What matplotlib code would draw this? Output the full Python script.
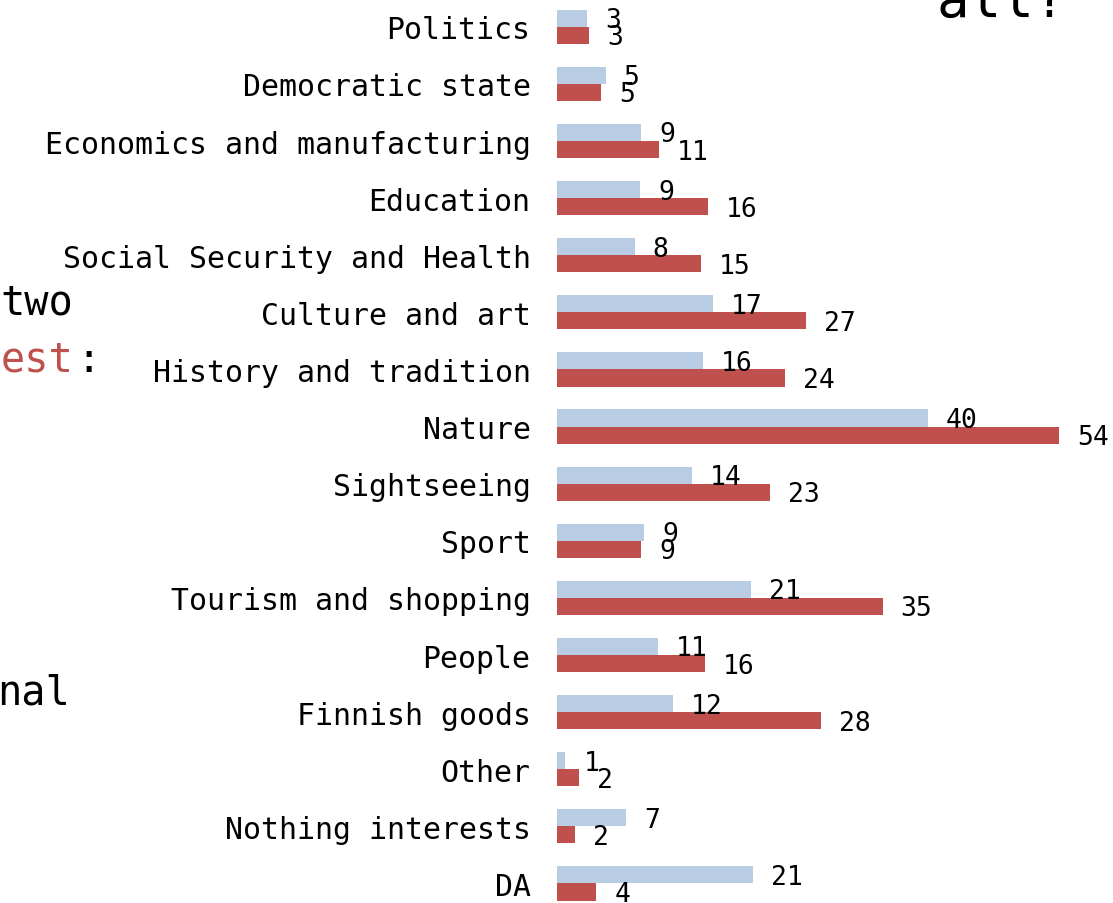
import numpy as np
import matplotlib
matplotlib.use('Agg')
import matplotlib.pyplot as plt

# data (percent of answers, two groups)
categories = ['Politics', 'Democratic state', 'Economics and manufacturing',
              'Education', 'Social Security and Health', 'Culture and art',
              'History and tradition', 'Nature', 'Sightseeing', 'Sport',
              'Tourism and shopping', 'People', 'Finnish goods', 'Other',
              'Nothing interests', 'DA']
blue_vals = [3.2, 5.2, 9.0, 8.9, 8.3, 16.7, 15.6, 39.6, 14.4, 9.3,
             20.7, 10.8, 12.4, 0.9, 7.4, 20.9]
red_vals = [3.4, 4.7, 10.9, 16.1, 15.4, 26.6, 24.4, 53.6, 22.8, 9.0,
            34.8, 15.8, 28.2, 2.4, 1.9, 4.2]

blue_col = '#b8cce4'
red_col = '#c0504d'
mono = 'DejaVu Sans Mono'

W, H = 1113, 904
fig = plt.figure(figsize=(W / 100, H / 100), dpi=100)
ax = fig.add_axes([557 / W, 0, 1 - 557 / W, 1])

y = np.arange(len(categories))
h = 0.3
ax.barh(y - h / 2, blue_vals, height=h, color=blue_col, edgecolor='none')
ax.barh(y + h / 2, red_vals, height=h, color=red_col, edgecolor='none')

for yy, v in zip(y, blue_vals):
    ax.annotate(f'{round(v)}', (v, yy - h / 2), xytext=(18, -2),
                textcoords='offset pixels', ha='left', va='center',
                fontsize=19, family=mono, color='black')
for yy, v in zip(y, red_vals):
    ax.annotate(f'{round(v)}', (v, yy + h / 2), xytext=(18, -2),
                textcoords='offset pixels', ha='left', va='center',
                fontsize=19, family=mono, color='black')

ax.set_xlim(0, 556 / 9.36)
ax.set_ylim(15.342, -0.487)
ax.set_yticks(y)
ax.set_yticklabels(categories, family=mono, fontsize=21.5)
ax.tick_params(axis='y', length=0, pad=19)
ax.set_xticks([])
for s in ax.spines.values():
    s.set_visible(False)

# bits of the surrounding slide text that got cropped
fig.text(73 / W, 1 - 315 / H, 'two', ha='right', va='baseline',
         family=mono, fontsize=29, color='black')
fig.text(73 / W, 1 - 372 / H, 'est', ha='right', va='baseline',
         family=mono, fontsize=29, color=red_col)
fig.text(76 / W, 1 - 372 / H, ':', ha='left', va='baseline',
         family=mono, fontsize=29, color='black')
fig.text(70 / W, 1 - 705 / H, 'nal', ha='right', va='baseline',
         family=mono, fontsize=29, color='black')
fig.text(936 / W, 1 - 17 / H, 'all?', ha='left', va='baseline',
         family=mono, fontsize=39, color='black')

fig.savefig('out.png', dpi=100)
